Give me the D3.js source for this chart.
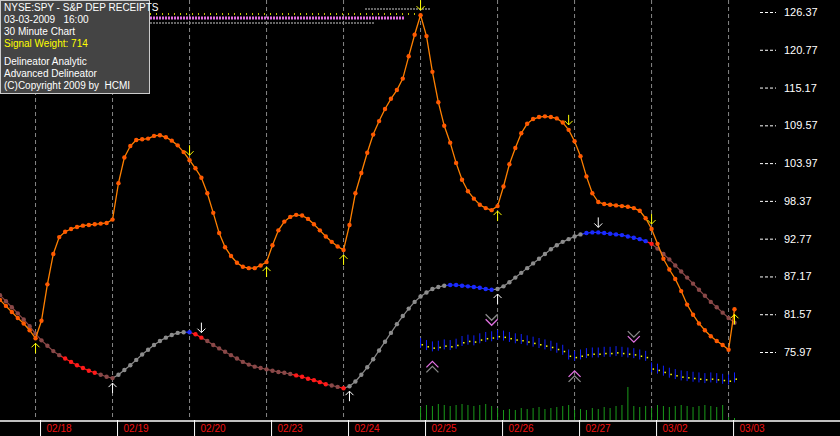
<!DOCTYPE html>
<html><head><meta charset="utf-8">
<script src="https://cdn.jsdelivr.net/npm/d3@7"></script>
<style>body{margin:0;background:#000}svg{display:block}text{white-space:pre}</style>
</head><body>
<svg id="chart" width="840" height="436"></svg>
<script>
// 30 minute bars, index 0..124
const days = ['02/18','02/19','02/20','02/23','02/24','02/25','02/26','02/27','03/02','03/03']
const dayStart = [6,19,32,45,58,71,84,97,110,123]
const yTicks = [126.37,120.77,115.17,109.57,103.97,98.37,92.77,87.17,81.57,75.97]

const delineator = [83.7,82.8,81.9,81.0,80.2,79.2,78.0,80.6,86,90.5,93.0,93.8,94.2,94.5,94.7,94.8,94.9,95.0,95.1,95.6,
  101,104.8,106.5,107.4,107.5,107.6,108.0,108.1,107.8,107.3,106.6,105.6,104.4,103.2,101.8,99.5,96.6,93.6,91.5,90.2,
  89.2,88.6,88.4,88.4,88.8,89.3,91.8,94.0,95.3,96.0,96.3,96.2,95.7,94.9,94.0,93.1,92.3,91.6,91.1,94.8,
  99.5,102.5,105.5,108.2,110.2,112.0,113.5,114.8,116.5,119.8,123.0,125.9,122.8,117.5,113.0,109.5,107.0,104.0,101.5,99.8,
  98.7,97.8,97.3,97.0,97.6,100.5,103.8,106.2,108.4,109.8,110.5,110.8,110.9,110.8,110.6,110.0,108.9,107.2,105.0,102.0,
  99.5,98.2,97.9,97.8,97.7,97.6,97.5,97.3,96.9,95.8,94.2,92.0,89.8,88.2,86.8,85.0,83.0,81.5,80.2,79.2,
  78.3,77.6,77.0,76.3,82.3]

const cycle = [84.4,83.5,82.6,81.7,80.8,79.8,78.7,77.7,76.9,76.1,75.5,75.0,74.5,74.0,73.6,73.2,72.9,72.6,72.3,72.1,
  72.6,73.3,74.0,74.8,75.6,76.3,77.0,77.6,78.1,78.5,78.8,78.9,78.9,78.6,78.1,77.6,77.0,76.5,76.0,75.5,
  75.0,74.5,74.1,73.8,73.6,73.4,73.2,73.0,72.9,72.7,72.5,72.3,72.0,71.8,71.5,71.2,71.0,70.8,70.6,70.9,
  71.6,72.6,73.7,74.9,76.2,77.5,78.8,80.1,81.3,82.4,83.4,84.2,84.8,85.3,85.6,85.8,85.9,85.9,85.8,85.7,
  85.6,85.5,85.3,85.2,85.3,85.7,86.3,87.0,87.7,88.4,89.1,89.8,90.5,91.2,91.8,92.3,92.7,93.1,93.4,93.6,
  93.7,93.7,93.6,93.5,93.4,93.3,93.1,92.9,92.7,92.4,92.0,91.3,90.5,89.7,88.8,87.9,87.0,86.1,85.2,84.3,
  83.4,82.6,81.8,81.0,80.3]
// [first, last, state]  d=falling u=rising r=strong b=top
const cycleStates = [[0,10,'d'],[11,16,'r'],[17,19,'d'],[20,31,'u'],[32,32,'b'],[33,34,'r'],[35,49,'d'],
  [50,55,'r'],[56,57,'d'],[58,58,'r'],[59,75,'u'],[76,83,'b'],[84,98,'u'],[99,109,'b'],[110,110,'r'],[111,124,'d']]

// blue band from bar 71
const bandStart = 71
const band = [77.3,77.0,76.8,76.9,77.1,77.0,77.2,77.6,77.8,77.7,78.0,78.2,78.3,78.5,78.4,78.2,78.0,77.9,77.7,77.5,
  77.3,77.1,76.9,76.6,76.3,75.6,75.4,75.6,75.8,75.9,75.9,76.0,76.0,76.1,76.0,75.9,75.8,75.6,75.4,73.7,
  73.5,73.2,72.9,72.7,72.5,72.4,72.3,72.2,72.1,72.2,72.1,72.0,71.9,72.2]
const volume = [13,15,14,16,15,14,15,16,15,14,15,16,14,12,10,11,10,12,11,12,
  13,11,12,13,14,15,10,11,10,12,11,13,12,14,15,33,14,13,14,12,
  15,14,13,14,15,14,13,14,15,14,13,15,3,2]

const yellowDown = [32,71,96,110], yellowUp = [6,45,58,84,124]
const whiteUp = [19,59,84], whiteDown = [34,101]
const pinkUp = [73,97], pinkDown = [83,107]

const W = 840, H = 436, plotBottom = 420
const svg = d3.select('#chart')
svg.append('rect').attr('width', W).attr('height', H).attr('fill', '#000')

const x = d3.scaleLinear().domain([0, 124]).range([0, 734.5])
const y = d3.scaleLinear().domain([75.97, 126.37]).range([352, 12])

// day separators
svg.selectAll('.grid').data(dayStart).enter().append('line')
  .attr('x1', d => x(d)).attr('x2', d => x(d)).attr('y1', 0).attr('y2', plotBottom)
  .attr('stroke', '#aaa').attr('stroke-dasharray', '4,3').attr('stroke-width', 0.8)

// right axis
const axis = svg.append('g').attr('transform', 'translate(760,0)')
  .call(d3.axisRight(y).tickValues(yTicks).tickSize(0).tickPadding(24).tickFormat(d3.format('.2f')))
axis.select('.domain').remove()
axis.selectAll('text').attr('fill', '#fff').attr('font-family', 'Arial, Liberation Sans').attr('font-size', 11)
axis.selectAll('.tick').append('line').attr('x1', 0).attr('x2', 16)
  .attr('stroke', '#fff').attr('stroke-dasharray', '3,2')

// volume
svg.selectAll('.vol').data(volume).enter().append('line')
  .attr('x1', (d, i) => x(bandStart + i)).attr('x2', (d, i) => x(bandStart + i))
  .attr('y1', plotBottom).attr('y2', d => plotBottom - d).attr('stroke', '#1a9a1a')

// blue band
svg.selectAll('.band').data(band).enter().append('line')
  .attr('x1', (d, i) => x(bandStart + i)).attr('x2', (d, i) => x(bandStart + i))
  .attr('y1', d => y(d) - 5).attr('y2', d => y(d) + 5).attr('stroke', '#1020ff')
svg.selectAll('.bandDot').data(band).enter().append('rect')
  .attr('x', (d, i) => x(bandStart + i) + 1).attr('y', d => y(d) + 1).attr('width', 1.5).attr('height', 1.5)
  .attr('fill', '#ff0')

// top signal lines
const topLines = [[0.8, 9, 365, 430, '#888'], [0.8, 14, 150, 420, '#ff0'], [1.5, 18, 150, 405, '#e070e0'], [0.8, 23, 150, 375, '#888']]
topLines.forEach(l => svg.append('line').attr('x1', l[2]).attr('x2', l[3]).attr('y1', l[1]).attr('y2', l[1])
  .attr('stroke', l[4]).attr('stroke-width', l[0] * 2).attr('stroke-dasharray', l[4] === '#ff0' ? '1,5' : '2,1'))

// cycle line
const stateColor = { d: '#8a4848', u: '#8c8c8c', r: '#ff1a1a', b: '#1a2aff' }
const stateOf = i => cycleStates.find(s => i >= s[0] && i <= s[1])[2]
for (let i = 0; i < cycle.length - 1; i++) {
  svg.append('line').attr('x1', x(i)).attr('y1', y(cycle[i])).attr('x2', x(i + 1)).attr('y2', y(cycle[i + 1]))
    .attr('stroke', stateColor[stateOf(i + 1)]).attr('stroke-width', 1.2)
}
svg.selectAll('.cyc').data(cycle).enter().append('circle')
  .attr('cx', (d, i) => x(i)).attr('cy', d => y(d)).attr('r', 2.2)
  .attr('fill', (d, i) => stateColor[stateOf(i)])

// delineator line
svg.append('path').datum(delineator)
  .attr('d', d3.line().x((d, i) => x(i)).y(d => y(d)))
  .attr('fill', 'none').attr('stroke', '#ff8000').attr('stroke-width', 1.3)
svg.selectAll('.del').data(delineator).enter().append('circle')
  .attr('cx', (d, i) => x(i)).attr('cy', d => y(d)).attr('r', 2.2).attr('fill', '#ff5a00')

// arrows
function arrow(i, v, up, color, off) {
  const cx = x(i), cy = y(v) + off
  const g = svg.append('g').attr('stroke', color).attr('fill', 'none').attr('stroke-width', 1)
  const dir = up ? -1 : 1
  g.append('line').attr('x1', cx).attr('x2', cx).attr('y1', cy - 5 * dir).attr('y2', cy + 5 * dir)
  g.append('polyline').attr('points', `${cx - 4},${cy + 1 * dir} ${cx},${cy + 5 * dir} ${cx + 4},${cy + 1 * dir}`)
}
yellowDown.forEach(i => arrow(i, delineator[i], false, '#ff0', -10))
yellowUp.forEach(i => arrow(i, delineator[i], true, '#ff0', 10))
whiteUp.forEach(i => arrow(i, cycle[i], true, '#fff', 10))
whiteDown.forEach(i => arrow(i, cycle[i], false, '#fff', -10))

function chevron(i, v, up, off) {
  const cx = x(i), cy = y(v) + off, d = up ? -1 : 1
  ;[['#e070e0', 0], ['#888', 5]].forEach(c => svg.append('polyline')
    .attr('points', `${cx - 6},${cy - 3 * d + c[1] * (up ? 1 : -1)} ${cx},${cy + 3 * d + c[1] * (up ? 1 : -1)} ${cx + 6},${cy - 3 * d + c[1] * (up ? 1 : -1)}`)
    .attr('fill', 'none').attr('stroke', c[0]).attr('stroke-width', 1.3))
}
pinkUp.forEach(i => chevron(i, band[i - bandStart], true, 18))
pinkDown.forEach(i => chevron(i, band[i - bandStart], false, -14))

// bottom date strip
svg.append('rect').attr('x', 0).attr('y', plotBottom).attr('width', W).attr('height', H - plotBottom).attr('fill', '#000')
svg.append('line').attr('x1', 0).attr('x2', W).attr('y1', plotBottom + 1).attr('y2', plotBottom + 1).attr('stroke', '#fff').attr('stroke-width', 1.5)
days.forEach((d, k) => {
  const px = x(dayStart[k]) + 5
  svg.append('line').attr('x1', px).attr('x2', px).attr('y1', plotBottom).attr('y2', H).attr('stroke', '#fff')
  svg.append('text').attr('x', px + 6).attr('y', 432).text(d)
    .attr('fill', '#f01010').attr('font-family', 'Arial, Liberation Sans').attr('font-size', 10)
})

// info box
const info = [['NYSE:SPY - S&P DEP RECEIPTS', '#fff', 11], ['03-03-2009   16:00', '#fff', 23], ['30 Minute Chart', '#fff', 35],
  ['Signal Weight: 714', '#ff0', 47], ['Delineator Analytic', '#fff', 65], ['Advanced Delineator', '#fff', 77], ['(C)Copyright 2009 by  HCMI', '#fff', 89]]
svg.append('rect').attr('x', 0.5).attr('y', 0.5).attr('width', 149).attr('height', 93).attr('fill', '#444').attr('stroke', '#ccc')
info.forEach(t => svg.append('text').attr('x', 4).attr('y', t[2]).text(t[0]).attr('fill', t[1])
  .attr('font-family', 'Arial, Liberation Sans').attr('font-size', 10))
</script>
</body></html>
